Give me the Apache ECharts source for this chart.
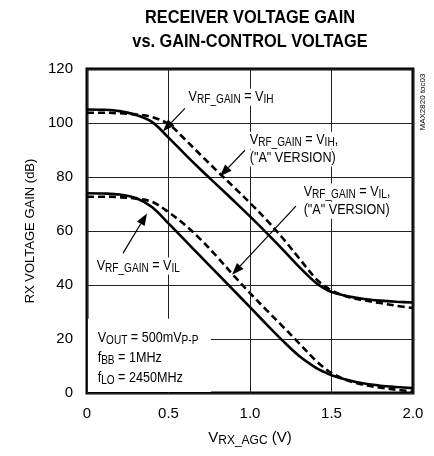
<!DOCTYPE html>
<html>
<head>
<meta charset="utf-8">
<script src="https://cdn.jsdelivr.net/npm/echarts@6/dist/echarts.min.js"></script>
<style>
html,body{margin:0;padding:0;background:#fff;}
#chart{width:434px;height:456px;}
</style>
</head>
<body>
<div id="chart"></div>
<script>
// ---- data ----
var vAgc = [0, 0.1, 0.2, 0.3, 0.4, 0.5, 0.6, 0.7, 0.8, 0.9, 1.0, 1.1, 1.2, 1.3, 1.4, 1.45, 1.5, 1.6, 1.7, 1.8, 1.9, 2.0];
var gainVIH  = [105, 104.9, 104.4, 103, 100.3, 94.6, 88.5, 82.6, 76.9, 71.2, 65.4, 59.4, 53.2, 46.8, 41, 38.9, 37.4, 35.8, 34.8, 34.2, 33.8, 33.5];
var gainVIHA = [103.8, 103.8, 103.6, 103.2, 102.2, 99.6, 94, 88, 82.1, 76.3, 70.4, 64.2, 57.4, 50, 42.6, 40, 38, 35.6, 34.3, 33.3, 32.3, 31.5];
var gainVIL  = [74, 73.9, 73.5, 72.2, 68.8, 62.8, 56.6, 50.4, 44.2, 38, 31.8, 25.5, 19.4, 13.8, 9.5, 7.9, 6.6, 4.8, 3.5, 2.7, 2.2, 1.8];
var gainVILA = [72.7, 72.7, 72.5, 72, 70.8, 67, 62.3, 56.7, 50.3, 43.5, 37, 30.8, 24.7, 18.5, 12.2, 9.6, 7.4, 4.6, 3, 2, 1.2, 0.6];
var xTicks = [0, 0.5, 1.0, 1.5, 2.0];
var yTicks = [0, 20, 40, 60, 80, 100, 120];

function pairs(ys){ return vAgc.map(function(x,i){ return [x, ys[i]]; }); }

var FONT = '"Liberation Sans Narrow","Arial Narrow","Liberation Sans",sans-serif';

var chart = echarts.init(document.getElementById('chart'), null, {renderer:'canvas'});

var option = {
  animation: false,
  backgroundColor: '#fff',
  grid: {left: 87, right: 21, top: 69, bottom: 63, show: true, borderColor: '#000', borderWidth: 3, backgroundColor: 'transparent'},
  xAxis: {
    type: 'value', min: xTicks[0], max: xTicks[xTicks.length-1], interval: xTicks[1]-xTicks[0],
    axisLine: {show: false}, axisTick: {show: false},
    splitLine: {show: true, lineStyle: {color: '#222', width: 1}},
    axisLabel: {fontFamily: FONT, fontSize: 15, color: '#000', margin: 13,
      formatter: function(v){ return v === 0 ? '0' : v.toFixed(1); }},
    name: '{v|V}{s|RX_AGC}{v| (V)}', nameLocation: 'middle', nameGap: 36,
    nameTextStyle: {fontFamily: FONT, color: '#000',
      rich: {v: {fontFamily: FONT, fontSize: 15, color: '#000', lineHeight: 18},
             s: {fontFamily: FONT, fontSize: 12, color: '#000', lineHeight: 12, padding: [6,0,0,0]}}}
  },
  yAxis: {
    type: 'value', min: yTicks[0], max: yTicks[yTicks.length-1], interval: yTicks[1]-yTicks[0],
    axisLine: {show: false}, axisTick: {show: false},
    splitLine: {show: true, lineStyle: {color: '#222', width: 1}},
    axisLabel: {fontFamily: FONT, fontSize: 15, color: '#000', margin: 14},
    name: 'RX VOLTAGE GAIN (dB)', nameLocation: 'middle', nameGap: 47,
    nameTextStyle: {fontFamily: FONT, fontSize: 13, color: '#000'}
  },
  series: [
    {type: 'line', data: pairs(gainVIH), smooth: 0.35, showSymbol: false, lineStyle: {color: '#000', width: 2.6}, z: 3},
    {type: 'line', data: pairs(gainVIHA), smooth: 0.35, showSymbol: false, lineStyle: {color: '#000', width: 2.6, type: [7,4]}, z: 3},
    {type: 'line', data: pairs(gainVIL), smooth: 0.35, showSymbol: false, lineStyle: {color: '#000', width: 2.6}, z: 3},
    {type: 'line', data: pairs(gainVILA), smooth: 0.35, showSymbol: false, lineStyle: {color: '#000', width: 2.6, type: [7,4]}, z: 3}
  ]
};
chart.setOption(option);

// ---- annotations (anchored in data coordinates) ----
var richStyles = {
  v: {fontFamily: FONT, fontSize: 15, color: '#000', lineHeight: 17},
  s: {fontFamily: FONT, fontSize: 12, color: '#000', lineHeight: 12, padding: [5,0,0,0]}
};
var labels = [
  {at: [0.613, 109.5], text: '{v|V}{s|RF_GAIN}{v| = V}{s|IH}'},
  {at: [0.988, 93.6], text: '{v|V}{s|RF_GAIN}{v| = V}{s|IH}{v|,}'},
  {at: [0.988, 87.0], text: '{v|("A" VERSION)}'},
  {at: [1.319, 74.4], text: '{v|V}{s|RF_GAIN}{v| = V}{s|IL}{v|,}'},
  {at: [1.319, 67.7], text: '{v|("A" VERSION)}'},
  {at: [0.049, 47.0], text: '{v|V}{s|RF_GAIN}{v| = V}{s|IL}'},
  {at: [0.055, 20.4], text: '{v|V}{s|OUT}{v| = 500mV}{s|P-P}'},
  {at: [0.055, 13.0], text: '{v|f}{s|BB}{v| = 1MHz}'},
  {at: [0.055, 5.6], text: '{v|f}{s|LO}{v| = 2450MHz}'}
];
var arrows = [
  {from: [0.601, 105.4], to: [0.466, 96.9]},
  {from: [0.969, 89.9], to: [0.816, 80.3]},
  {from: [1.282, 69.2], to: [0.890, 43.8]},
  {from: [0.221, 51.8], to: [0.368, 66.5]}
];
var condBox = {from: [0.006, 27.5], to: [0.76, 0.4]};

function px(p){ return chart.convertToPixel({gridIndex: 0}, p); }

var g = [];
// title (condensed by horizontal scaling)
g.push({type: 'text', x: 250, y: 18, scaleX: 0.86, z: 11,
  style: {text: 'RECEIVER VOLTAGE GAIN', fontFamily: FONT, fontWeight: 'bold', fontSize: 19, fill: '#000', align: 'center', verticalAlign: 'middle'}});
g.push({type: 'text', x: 250, y: 42, scaleX: 0.86, z: 11,
  style: {text: 'vs. GAIN-CONTROL VOLTAGE', fontFamily: FONT, fontWeight: 'bold', fontSize: 19, fill: '#000', align: 'center', verticalAlign: 'middle'}});

var b0 = px(condBox.from), b1 = px(condBox.to);
g.push({type: 'rect', shape: {x: b0[0], y: b0[1], width: b1[0]-b0[0], height: b1[1]-b0[1]}, style: {fill: '#fff'}, z: 10});
labels.forEach(function(l){
  var p = px(l.at);
  g.push({type: 'text', x: p[0], y: p[1], scaleX: 0.84, z: 11,
    style: {text: l.text, rich: richStyles, verticalAlign: 'middle', align: 'left',
            backgroundColor: '#fff', padding: [0, 2, 0, 2]}});
});
arrows.forEach(function(a){
  var f = px(a.from), t = px(a.to);
  var dx = t[0]-f[0], dy = t[1]-f[1], L = Math.sqrt(dx*dx+dy*dy);
  var ux = dx/L, uy = dy/L, hl = 12, hw = 4.5;
  var bx = t[0]-ux*hl, by = t[1]-uy*hl;
  g.push({type: 'line', z: 12, shape: {x1: f[0], y1: f[1], x2: bx, y2: by}, style: {stroke: '#000', lineWidth: 1.2}});
  g.push({type: 'polygon', z: 12, shape: {points: [[t[0], t[1]], [bx - uy*hw, by + ux*hw], [bx + uy*hw, by - ux*hw]]}, style: {fill: '#000'}});
});
g.push({type: 'text', x: 423, y: 102, rotation: Math.PI/2, z: 11,
  style: {text: 'MAX2820 toc03', fontFamily: FONT, fontSize: 8, fill: '#000', align: 'center', verticalAlign: 'middle'}});
chart.setOption({graphic: g});
</script>
</body>
</html>
